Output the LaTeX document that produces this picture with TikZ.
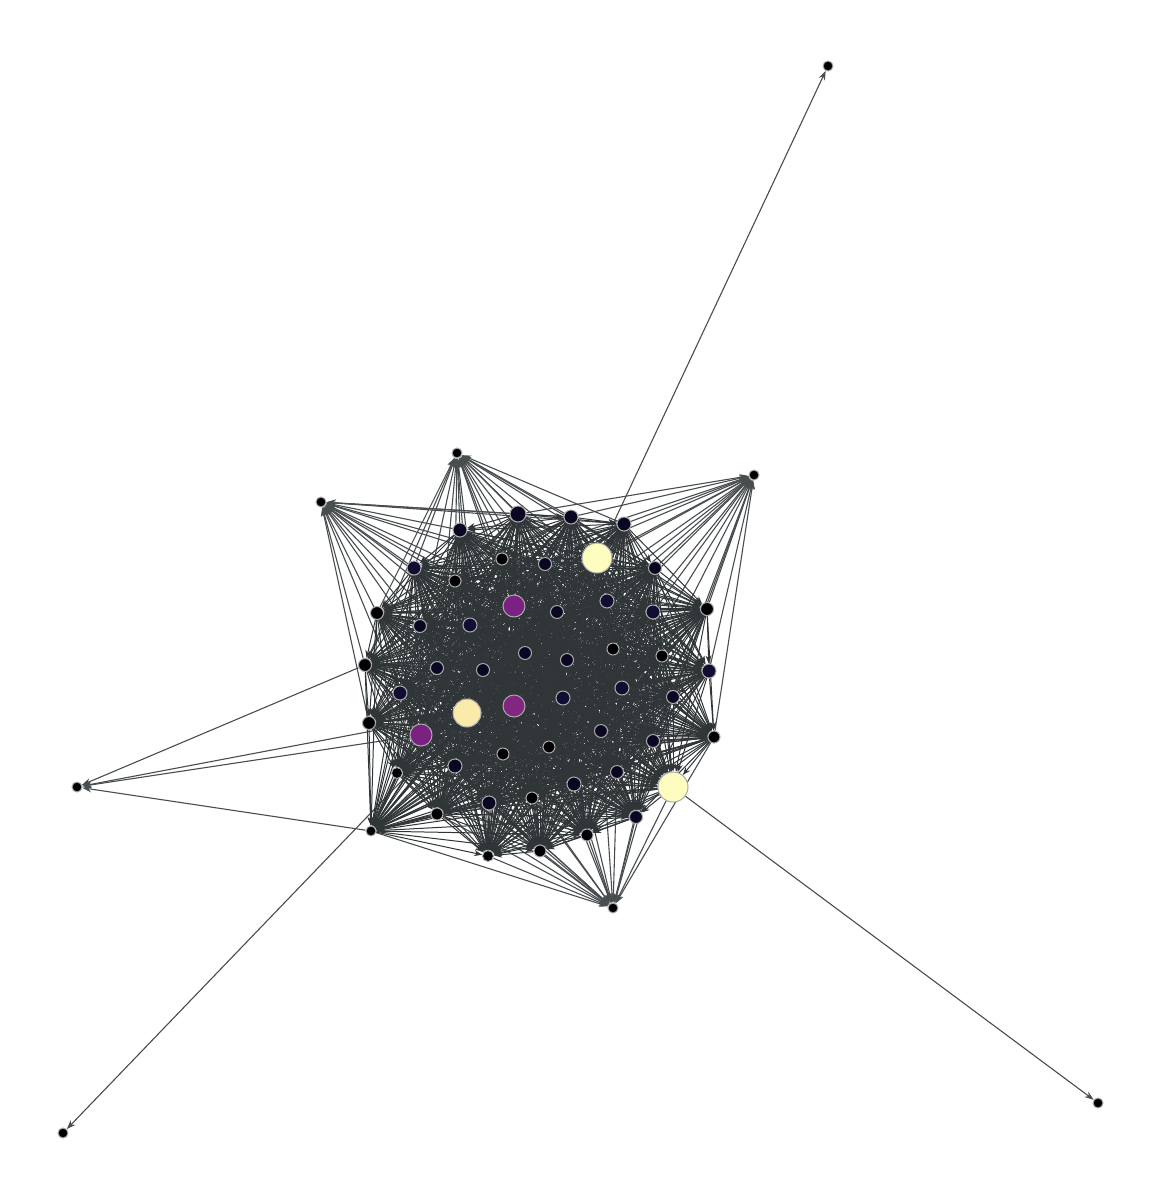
\documentclass[tikz,border=0pt]{standalone}
\usetikzlibrary{arrows.meta}
\pgfdeclarelayer{bg}
\pgfsetlayers{bg,main}
\definecolor{edgec}{RGB}{48,53,56}
\definecolor{oedgec}{RGB}{72,77,80}
\definecolor{c0}{RGB}{0,0,4}
\definecolor{c1}{RGB}{10,7,34}
\definecolor{c2}{RGB}{18,13,50}
\definecolor{cy}{RGB}{252,253,191}
\definecolor{cc}{RGB}{251,235,170}
\definecolor{cp}{RGB}{122,34,129}
\definecolor{cq}{RGB}{130,38,129}
\tikzset{
  vtx/.style={circle,draw={rgb,255:red,170;green,170;blue,170},line width=1pt,inner sep=0pt},
  edge/.style={draw=oedgec,line width=1.1pt,-{Stealth[length=9pt,width=6.5pt]}},
  iedge/.style={draw=edgec,line width=1pt,-{Stealth[length=8pt,width=6pt]}}
}
\begin{document}
\begin{tikzpicture}[x=1pt,y=-1pt]
\useasboundingbox (0,0) rectangle (1163,1200);
% inner nodes
\foreach \x/\y/\d/\c [count=\n] in {
518/514/16/c1, 571/517/14/c1, 624/524/14/c1, 460/530/14/c1, 502/559/12/c0,
545/564/13/c1, 597/558/30/cy, 414/568/14/c2, 655/568/13/c1, 455/581/12/c0,
514/606/22/cp, 557/612/13/c1, 607/601/14/c2, 653/612/14/c2, 707/609/13/c0,
377/613/13/c0, 420/626/13/c1, 470/625/14/c2, 525/653/13/c1, 567/660/13/c1,
613/649/12/c0, 662/656/12/c0, 365/665/13/c0, 437/668/13/c1, 483/670/13/c1,
709/671/14/c2, 400/693/14/c2, 622/688/14/c2, 673/697/13/c1, 563/698/14/c2,
514/706/22/cq, 467/713/28/cc, 369/723/13/c0, 421/735/22/cp, 601/731/13/c1,
653/741/13/c1, 714/737/12/c0, 549/747/12/c0, 503/754/12/c0, 455/766/14/c1,
397/773/11/c0, 617/772/13/c1, 673/787/30/cy, 574/784/14/c1, 532/798/12/c0,
489/803/14/c1, 437/814/12/c0, 636/817/13/c1, 371/831/10/c0, 587/835/12/c0,
540/851/12/c0, 488/856/11/c0}
  \node[vtx,fill=\c,minimum size=\d pt] (n\n) at (\x,\y) {};
% outer nodes
\foreach \x/\y [count=\n] in {457/453, 321/502, 754/475, 613/908, 77/787, 828/66, 63/1133, 1098/1103}
  \node[vtx,fill=c0,minimum size=10pt] (o\n) at (\x,\y) {};
\begin{pgfonlayer}{bg}
  \fill[white] (0,0) rectangle (1163,1200);
  \foreach \i in {1,2,3,4,5,6,8,9,10,11,12,13,14,15,16,17,18,19,20,23,24,25}
    \draw[edge] (n\i) -- (o1);
  \foreach \i in {1,2,3,4,5,6,8,10,11,12,16,17,18,19,23,24,25,27,33}
    \draw[edge] (n\i) -- (o2);
  \foreach \i in {1,2,3,5,6,7,9,11,12,13,14,15,19,20,21,22,26,28,29,36,37}
    \draw[edge] (n\i) -- (o3);
  \foreach \i in {29,30,33,34,35,36,37,38,39,40,41,42,43,44,45,46,47,48,49,50,51,52}
    \draw[edge] (n\i) -- (o4);
  \foreach \i in {23,34,32,49}
    \draw[edge] (n\i) -- (o5);
  \draw[edge] (n7) -- (o6);
  \draw[edge] (n32) -- (o7);
  \draw[edge] (n43) -- (o8);
  \foreach \i in {1,...,51} {
    \pgfmathtruncatemacro\k{\i+1}
    \foreach \j in {\k,...,52} \draw[iedge] (n\i) -- (n\j);
  }
\end{pgfonlayer}
\end{tikzpicture}
\end{document}
